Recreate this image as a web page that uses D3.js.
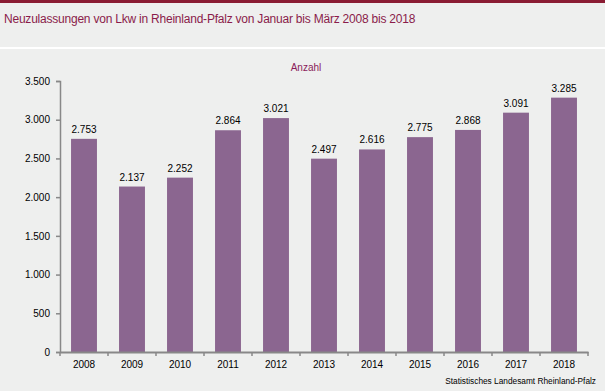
<!DOCTYPE html>
<html>
<head>
<meta charset="utf-8">
<script src="https://cdn.jsdelivr.net/npm/d3@7"></script>
<style>
  body { margin: 0; background: #eeefee; }
  svg { display: block; font-family: "Liberation Sans", Arial, sans-serif; }
</style>
</head>
<body>
<svg id="chart" width="605" height="391"></svg>
<script>
// data
var years = ['2008','2009','2010','2011','2012','2013','2014','2015','2016','2017','2018'];
var values = [2753, 2137, 2252, 2864, 3021, 2497, 2616, 2775, 2868, 3091, 3285];
var yTicks = [0, 500, 1000, 1500, 2000, 2500, 3000, 3500];

var svg = d3.select('#chart');
var fmt = function(v){ return d3.format(',')(v).replace(/,/g, '.'); };

svg.append('rect').attr('width', 605).attr('height', 391).attr('fill', '#eeefee');
// top bar
svg.append('rect').attr('width', 605).attr('height', 3).attr('fill', '#8a1c33');
svg.append('text').attr('x', 4).attr('y', 23)
  .attr('fill', '#8a1c4a').attr('font-size', 12).attr('letter-spacing', -0.22)
  .text('Neuzulassungen von Lkw in Rheinland-Pfalz von Januar bis März 2008 bis 2018');
svg.append('rect').attr('y', 47).attr('width', 605).attr('height', 2).attr('fill', '#ffffff');

var x = d3.scaleBand().domain(years).range([60, 588]).paddingInner(0.46).paddingOuter(0.23);
var y = d3.scaleLinear().domain([0, 3500]).range([352, 81]);

svg.append('text').attr('x', 306).attr('y', 71).attr('text-anchor', 'middle')
  .attr('fill', '#8a1c5a').attr('font-size', 10).text('Anzahl');

// bars
svg.selectAll('rect.bar').data(values).enter().append('rect')
  .attr('class', 'bar')
  .attr('x', function(d, i){ return x(years[i]); })
  .attr('y', function(d){ return y(d); })
  .attr('width', x.bandwidth())
  .attr('height', function(d){ return y(0) - y(d); })
  .attr('fill', '#8b6690');

svg.selectAll('text.val').data(values).enter().append('text')
  .attr('x', function(d, i){ return x(years[i]) + x.bandwidth() / 2; })
  .attr('y', function(d){ return y(d) - 6; })
  .attr('text-anchor', 'middle').attr('font-size', 10).attr('fill', '#000')
  .text(fmt);

// y axis
var yAxis = svg.append('g').attr('transform', 'translate(60,0)')
  .call(d3.axisLeft(y).tickValues(yTicks).tickFormat(fmt).tickSize(4).tickPadding(6));
yAxis.select('.domain').attr('stroke', '#888').attr('stroke-width', 1.5);
yAxis.selectAll('.tick line').attr('stroke', '#888').attr('stroke-width', 1.5);
yAxis.selectAll('text').attr('font-size', 10).attr('fill', '#000')
  .attr('font-family', '"Liberation Sans", Arial, sans-serif');

// x axis
var xAxis = svg.append('g').attr('transform', 'translate(0,352)')
  .call(d3.axisBottom(x).tickSize(0).tickPadding(9));
xAxis.select('.domain').attr('stroke', '#888').attr('stroke-width', 2);
xAxis.selectAll('text').attr('font-size', 10).attr('fill', '#000')
  .attr('font-family', '"Liberation Sans", Arial, sans-serif');
// boundary ticks
var step = x.step();
svg.selectAll('line.xt').data(d3.range(years.length + 1)).enter().append('line')
  .attr('x1', function(i){ return 60 + i * step; })
  .attr('x2', function(i){ return 60 + i * step; })
  .attr('y1', 352).attr('y2', 356)
  .attr('stroke', '#888').attr('stroke-width', 1.5);

svg.append('text').attr('x', 596).attr('y', 384).attr('text-anchor', 'end')
  .attr('font-size', 8.3).attr('fill', '#000')
  .text('Statistisches Landesamt Rheinland-Pfalz');
</script>
</body>
</html>
